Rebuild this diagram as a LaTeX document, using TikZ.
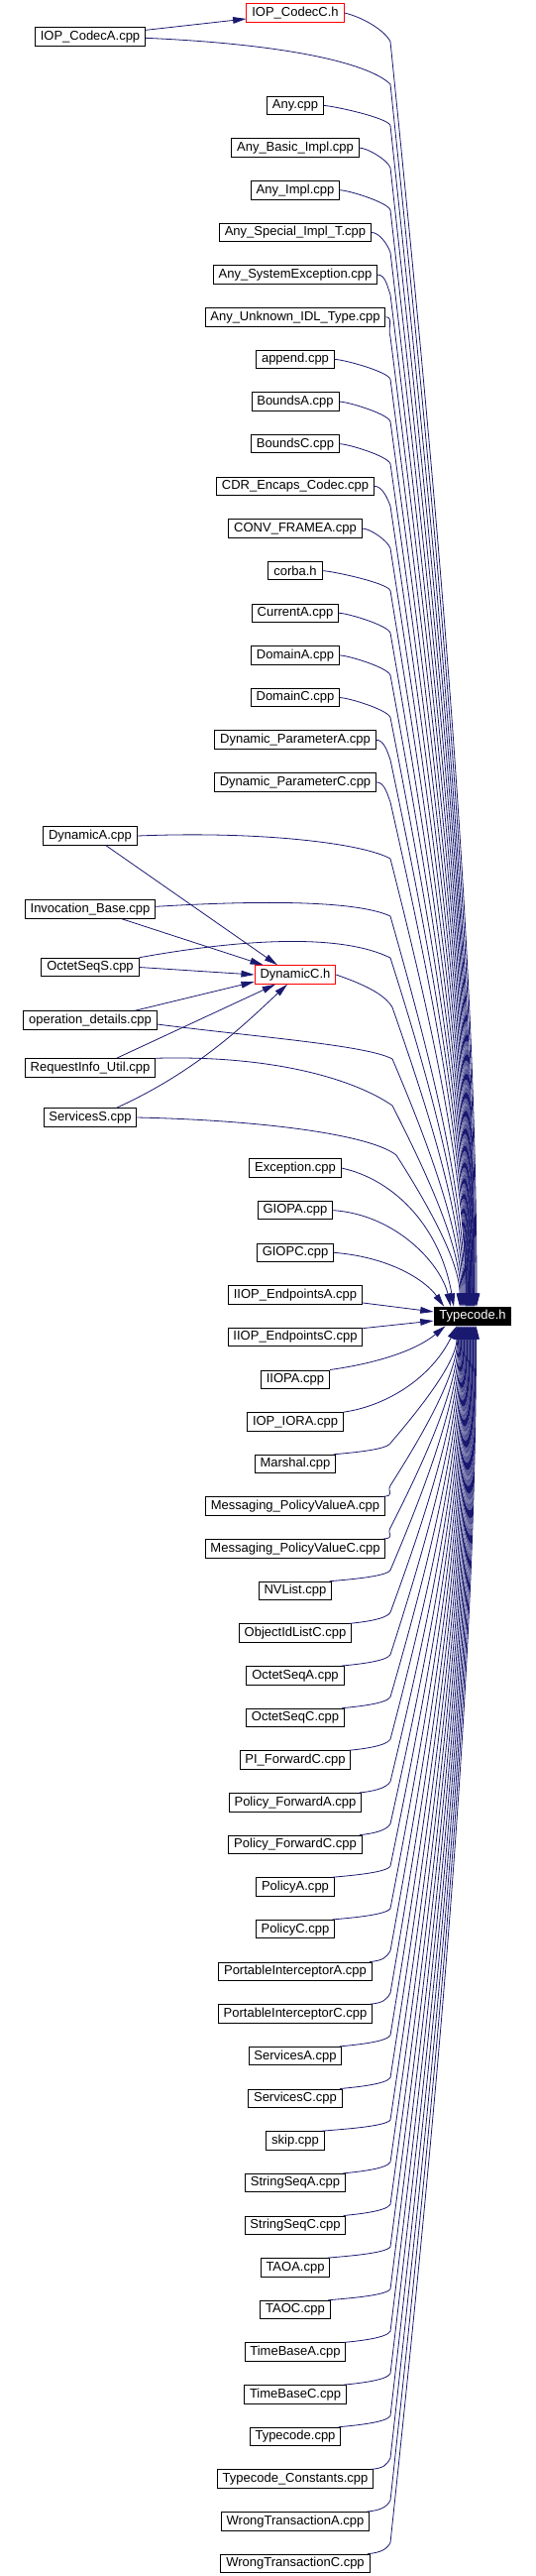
\documentclass[tikz,border=0pt]{standalone}
\usepackage{fontspec}
\setmainfont{Liberation Sans}
\usetikzlibrary{arrows.meta}
\definecolor{edgeblue}{RGB}{25,25,112}

\begin{document}
\begin{tikzpicture}[x=0.75pt,y=-0.75pt,
    file/.style={draw=black,line width=0.75pt,inner xsep=4pt,inner ysep=0pt,
      minimum height=13.9pt,font=\fontsize{9.75}{11}\selectfont},
    hdr/.style={file,draw=red},
    root/.style={file,fill=black,text=white},
    inc/.style={draw=edgeblue,line width=0.6pt,-{Triangle[length=10pt,width=5pt]}}]
  \useasboundingbox (0,0) rectangle (540,2598);

  \node[root] (tc) at (477,1327.5) {Typecode.h};
  \node[hdr] (codecc) at (298,13) {IOP\_CodecC.h};
  \node[file] (codeca) at (91,37) {IOP\_CodecA.cpp};
  \node[hdr] (dync) at (298,983) {DynamicC.h};
  \node[file] (dyna) at (91,843) {DynamicA.cpp};
  \node[file] (invb) at (91,917) {Invocation\_Base.cpp};
  \node[file] (octs) at (91,975.5) {OctetSeqS.cpp};
  \node[file] (opdet) at (91,1029) {operation\_details.cpp};
  \node[file] (reqi) at (91,1077) {RequestInfo\_Util.cpp};
  \node[file] (servs) at (91,1127) {ServicesS.cpp};

  %% files above Typecode.h
  \foreach \nm/\lbl [count=\i from 0] in {any/Any.cpp, anybasic/Any\_Basic\_Impl.cpp,
      anyimpl/Any\_Impl.cpp, anyspec/Any\_Special\_Impl\_T.cpp, anysysex/Any\_SystemException.cpp,
      anyunk/Any\_Unknown\_IDL\_Type.cpp, append/append.cpp, boundsa/BoundsA.cpp,
      boundsc/BoundsC.cpp, cdrenc/CDR\_Encaps\_Codec.cpp, convfr/CONV\_FRAMEA.cpp,
      corba/corba.h, currenta/CurrentA.cpp, domaina/DomainA.cpp, domainc/DomainC.cpp,
      dynpara/Dynamic\_ParameterA.cpp, dynparc/Dynamic\_ParameterC.cpp}{
    \pgfmathsetmacro\yy{106.5+42.65*\i}
    \pgfmathsetmacro\byy{\yy+20}
    \pgfmathsetmacro\cx{394+0.5*(85-0.55*\i)}
    \pgfmathsetmacro\cy{\byy+0.33*(1318-\byy)}
    \pgfmathsetmacro\hup{0.3*(1318-\byy)*0.75}
    \pgfmathsetmacro\dxx{(2-0.55*\i)*0.75}
    \node[file] (\nm) at (298,\yy) {\lbl};
    \draw[inc] (\nm.east) .. controls ([xshift=6pt]\nm.east) and (391,\yy+12) .. (394,\byy)
      .. controls (\cx,\cy) and ([xshift=\dxx pt,yshift=\hup pt]tc.north) .. ([xshift=\dxx pt]tc.north);
  }

  %% files below
  \foreach \nm/\lbl [count=\i from 0] in {exc/Exception.cpp, giopa/GIOPA.cpp, giopc/GIOPC.cpp,
      iiopea/IIOP\_EndpointsA.cpp, iiopec/IIOP\_EndpointsC.cpp, iiopa/IIOPA.cpp,
      iopiora/IOP\_IORA.cpp, marshal/Marshal.cpp, msgpva/Messaging\_PolicyValueA.cpp,
      msgpvc/Messaging\_PolicyValueC.cpp, nvlist/NVList.cpp, oidlc/ObjectIdListC.cpp,
      octsa/OctetSeqA.cpp, octsc/OctetSeqC.cpp, pifwdc/PI\_ForwardC.cpp,
      polfwda/Policy\_ForwardA.cpp, polfwdc/Policy\_ForwardC.cpp, policya/PolicyA.cpp,
      policyc/PolicyC.cpp, pia/PortableInterceptorA.cpp, pic/PortableInterceptorC.cpp,
      srva/ServicesA.cpp, srvc/ServicesC.cpp, skip/skip.cpp, strseqa/StringSeqA.cpp,
      strseqc/StringSeqC.cpp, taoa/TAOA.cpp, taoc/TAOC.cpp, tba/TimeBaseA.cpp,
      tbc/TimeBaseC.cpp, tccpp/Typecode.cpp, tcconst/Typecode\_Constants.cpp,
      wtxa/WrongTransactionA.cpp, wtxc/WrongTransactionC.cpp}{
    \pgfmathsetmacro\yy{1178+42.65*\i}
    \node[file] (\nm) at (298,\yy) {\lbl};
    \ifnum\i>6
      \pgfmathsetmacro\byy{\yy-21}
      \pgfmathsetmacro\cx{394+0.5*(67+0.75*(\i-7))}
      \pgfmathsetmacro\cy{\byy-0.33*(\byy-1337)}
      \pgfmathsetmacro\hup{0.3*(\byy-1337)*0.75}
      \pgfmathsetmacro\dxx{(-16+0.75*(\i-7))*0.75}
      \draw[inc] ([xshift=-2pt]\nm.north east) .. controls ([xshift=8pt,yshift=1pt]\nm.north east) and (390,\yy-14) .. (394,\byy)
        .. controls (\cx,\cy) and ([xshift=\dxx pt,yshift=-\hup pt]tc.south) .. ([xshift=\dxx pt]tc.south);
    \fi
  }

  %% into the two headers
  \draw[inc] ([yshift=5pt]codeca.east) -- ([yshift=-4.5pt]codecc.west);
  \draw[inc] ([xshift=12pt]dyna.south) -- ([xshift=-13.5pt]dync.north);
  \draw[inc] ([xshift=24pt]invb.south) -- ([xshift=6.75pt]dync.north west);
  \draw[inc] (octs.east) -- (dync.west);
  \draw[inc] ([xshift=34pt]opdet.north) -- ([yshift=2pt]dync.south west);
  \draw[inc] ([xshift=20pt]reqi.north) -- ([xshift=-15pt]dync.south);
  \draw[inc] ([xshift=20pt]servs.north) .. controls (200,1080) and (250,1030) .. ([xshift=-6pt]dync.south);

  %% the rest into Typecode.h
  \draw[inc] ([yshift=-1pt]codeca.east) .. controls (300,45) and (375,66) .. (394,85)
    .. controls (437,492) and ([xshift=2.25pt,yshift=277pt]tc.north) .. ([xshift=2.25pt]tc.north);
  \draw[inc] (codecc.east) .. controls (365,17) and (388,30) .. (394,42)
    .. controls (437,463) and ([xshift=3pt,yshift=287pt]tc.north) .. ([xshift=3pt]tc.north);
  \draw[inc] (dyna.east) .. controls (260,838) and (365,850) .. (394,866)
    .. controls (432,1015) and ([xshift=-5.25pt,yshift=102pt]tc.north) .. ([xshift=-5.25pt]tc.north);
  \draw[inc] ([yshift=2pt]invb.east) .. controls (260,908) and (360,908) .. (394,924)
    .. controls (431,1054) and ([xshift=-6pt,yshift=89pt]tc.north) .. ([xshift=-6pt]tc.north);
  \draw[inc] (octs.north east) .. controls (250,946) and (345,942) .. (394,966)
    .. controls (431,1082) and ([xshift=-6.75pt,yshift=79pt]tc.north) .. ([xshift=-6.75pt]tc.north);
  \draw[inc] (dync.east) .. controls (365,992) and (388,1002) .. (396,1016)
    .. controls (431,1116) and ([xshift=-7.5pt,yshift=68pt]tc.north) .. ([xshift=-7.5pt]tc.north);
  \draw[inc] ([yshift=-3pt]opdet.east) .. controls (260,1046) and (370,1054) .. (396,1068)
    .. controls (431,1150) and ([xshift=-8.25pt,yshift=56pt]tc.north) .. ([xshift=-8.25pt]tc.north);
  \draw[inc] (reqi.north east) .. controls (280,1064) and (360,1090) .. (396,1115)
    .. controls (430,1182) and ([xshift=-9pt,yshift=46pt]tc.north) .. ([xshift=-9pt]tc.north);
  \draw[inc] (servs.east) .. controls (270,1130) and (375,1145) .. (400,1165)
    .. controls (432,1215) and ([xshift=-9.75pt,yshift=34pt]tc.north) .. ([xshift=-9.75pt]tc.north);
  \draw[inc] (exc.east) .. controls (400,1190) and (445,1240) .. ([xshift=-14.25pt]tc.north);
  \draw[inc] (giopa.east) .. controls (400,1225) and (445,1275) .. ([xshift=-16.5pt]tc.north);
  \draw[inc] (giopc.east) .. controls (395,1268) and (430,1292) .. ([xshift=8pt]tc.north west);
  \draw[inc] ([yshift=-6pt]iiopea.east) -- ([yshift=3.4pt]tc.west);
  \draw[inc] ([yshift=6.75pt]iiopec.east) -- ([yshift=-3.4pt]tc.west);
  \draw[inc] (iiopa.north east) .. controls (380,1375) and (420,1362) .. ([xshift=9pt]tc.south west);
  \draw[inc] (iopiora.north east) .. controls (390,1418) and (435,1390) .. ([xshift=-12pt]tc.south);
\end{tikzpicture}
\end{document}
